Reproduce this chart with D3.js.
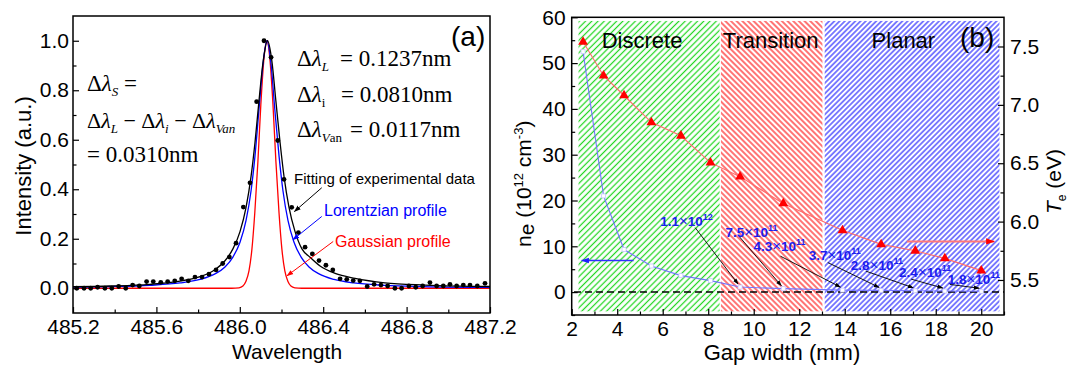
<!DOCTYPE html>
<html>
<head>
<meta charset="utf-8">
<script src="https://cdn.jsdelivr.net/npm/d3@7"></script>
<style>
body { margin: 0; background: #fff; }
svg { display: block; font-family: "Liberation Sans", Arial, sans-serif; }
</style>
</head>
<body>
<svg id="chart" width="1068" height="365"></svg>
<script>
// ---- panel (a): H-beta line profile ----
const expWavelength = [485.218,485.253,485.285,485.318,485.353,485.386,485.419,485.453,485.486,485.518,
  485.553,485.585,485.621,485.654,485.688,485.721,485.753,485.785,485.819,485.852,
  485.886,485.918,485.950,485.982,486.017,486.049,486.081,486.116,486.150,486.182,
  486.212,486.249,486.281,486.313,486.348,486.380,486.413,486.446,486.481,486.513,
  486.544,486.576,486.611,486.644,486.677,486.709,486.744,486.776,486.811,486.844,
  486.877,486.912,486.944,486.976,487.008,487.040,487.072,487.104,487.139,487.176];
const expIntensity = [0,0,0,0.004,0,0,0.007,0,0.013,0.009,
  0.027,0.027,0.024,0.027,0.03,0.038,0.03,0.045,0.045,0.057,
  0.074,0.1,0.126,0.182,0.328,0.426,0.754,1.0,0.933,0.597,
  0.44,0.327,0.225,0.166,0.139,0.112,0.093,0.074,0.038,0.036,
  0.031,0.03,0.007,0.016,0.013,0.009,0,0,0.009,0.004,
  0.009,0.023,0.009,0.009,0.016,0.009,0.013,0.013,0.009,0.02];

const fitWavelength = [485.200,485.377,485.569,485.713,485.809,485.881,485.929,485.967,486.001,486.030,
  486.054,486.073,486.092,486.112,486.133,486.154,486.173,486.193,486.212,486.236,
  486.265,486.298,486.337,486.385,486.457,486.553,486.696,486.888,487.200];
const fitIntensity = [0.006,0.009,0.016,0.029,0.047,0.075,0.111,0.159,0.229,0.327,
  0.452,0.59,0.757,0.917,1.0,0.917,0.757,0.59,0.452,0.327,
  0.229,0.159,0.125,0.09,0.06,0.04,0.022,0.013,0.007];

const lorWavelength = [485.200,485.377,485.569,485.713,485.809,485.881,485.929,485.967,486.001,486.030,
  486.054,486.073,486.092,486.112,486.130,486.149,486.168,486.188,486.207,486.231,
  486.260,486.294,486.332,486.380,486.452,486.547,486.692,486.883,487.200];
const lorIntensity = [0.0044,0.0067,0.012,0.0215,0.0357,0.058,0.086,0.126,0.186,0.274,
  0.394,0.536,0.722,0.912,1.0,0.912,0.722,0.536,0.394,0.274,
  0.186,0.126,0.086,0.058,0.0357,0.0215,0.012,0.0067,0.0033];

const gauWavelength = [485.200,485.962,485.996,486.015,486.029,486.044,486.058,486.072,486.087,486.101,
  486.116,486.130,486.144,486.159,486.173,486.188,486.202,486.216,486.231,486.245,
  486.264,486.298,487.200];
const gauIntensity = [0,0,0.0016,0.0088,0.027,0.07,0.157,0.306,0.514,0.744,
  0.929,1,0.929,0.744,0.514,0.306,0.157,0.07,0.027,0.0088,
  0.0016,0,0];

const wlTicks = [485.2, 485.6, 486.0, 486.4, 486.8, 487.2];
const wlMinor = [485.4, 485.8, 486.2, 486.6, 487.0];
const intTicks = [0, 0.2, 0.4, 0.6, 0.8, 1.0];
const intMinor = [0.1, 0.3, 0.5, 0.7, 0.9];

// ---- panel (b): gap width scan ----
const gapWidth = [2.5, 3.4, 4.3, 5.5, 6.8, 8.1, 9.4, 11.3, 13.9, 15.6, 17.1, 18.4, 20.0];
const density = [52.5, 21.0, 9.3, 5.7, 3.6, 2.5, 1.1, 0.75, 0.43, 0.37, 0.28, 0.24, 0.18];
const electronTemp = [7.54, 7.25, 7.08, 6.85, 6.735, 6.505, 6.385, 6.155, 5.925, 5.805, 5.75, 5.685, 5.58];

const densityText = ['1.1', '7.5', '4.3', '3.7', '2.8', '2.4', '1.8'];
const densityExp = ['12', '11', '11', '11', '11', '11', '11'];
const densityFirstIndex = 6;

const regionNames = ['Discrete', 'Transition', 'Planar'];
const regionStart = [2.3, 8.56, 13.12];
const regionEnd = [8.5, 13.02, 20.8];

const gapTicks = [2, 4, 6, 8, 10, 12, 14, 16, 18, 20];
const gapMinor = [3, 5, 7, 9, 11, 13, 15, 17, 19, 21];
const neTicks = [0, 10, 20, 30, 40, 50, 60];
const neMinor = [-5, 5, 15, 25, 35, 45, 55];
const teTicks = [5.5, 6.0, 6.5, 7.0, 7.5];
const teMinor = [5.75, 6.25, 6.75, 7.25];

// annotation layout (data units of panel b)
const labelGap = [5.89, 8.76, 9.99, 12.42, 14.27, 16.39, 18.53];
const labelNe = [14.5, 12.07, 8.93, 7.0, 4.8, 3.27, 1.68];
const arrowOffset = [[35, 2], [14, 0], [27, 5], [19, 2.5], [15, 1], [12, 2], [2, 0]];

const svg = d3.select('#chart');
const defs = svg.append('defs');

function arrowMarker(id, color, size) {
    defs.append('marker')
        .attr('id', id)
        .attr('viewBox', '0 0 10 10')
        .attr('refX', 9)
        .attr('refY', 5)
        .attr('markerUnits', 'userSpaceOnUse')
        .attr('markerWidth', size)
        .attr('markerHeight', size)
        .attr('orient', 'auto')
        .append('path')
        .attr('d', 'M0,1.5L10,5L0,8.5Z')
        .attr('fill', color);
}
arrowMarker('arK', '#000', 7);
arrowMarker('arB', '#0000ff', 7);
arrowMarker('arR', '#ff0000', 7);
arrowMarker('arK2', '#000', 6);
arrowMarker('arB2', '#2020ff', 8);
arrowMarker('arR2', '#ff0000', 9);

// diagonal hatch: vertical stripes turned by the given angle
function hatch(id, color, step, angle, width) {
    const p = defs.append('pattern')
        .attr('id', id)
        .attr('patternUnits', 'userSpaceOnUse')
        .attr('width', step)
        .attr('height', 10)
        .attr('patternTransform', `rotate(${angle})`);
    p.append('rect')
        .attr('x', (step - width) / 2).attr('y', 0)
        .attr('width', width).attr('height', 10)
        .attr('fill', color);
}
hatch('hGreen', '#22d622', 4.4, 45, 1.25);
hatch('hRed', '#ff1a1a', 4.0, -45, 1.2);
hatch('hBlue', '#2424ff', 3.7, 45, 1.15);
const regionFill = ['url(#hGreen)', 'url(#hRed)', 'url(#hBlue)'];

// rich text with sub/superscripts
function richText(g, x, y, parts, opts) {
    const t = g.append('text').attr('x', x).attr('y', y)
        .attr('font-size', opts.size)
        .attr('font-family', opts.family || null)
        .attr('fill', opts.fill || '#000');
    if (opts.transform) t.attr('transform', opts.transform);
    if (opts.anchor) t.attr('text-anchor', opts.anchor);
    if (opts.weight) t.attr('font-weight', opts.weight);
    let shift = 0;
    parts.forEach(p => {
        const s = t.append('tspan').text(p.t);
        const target = p.shift || 0;
        if (target !== shift) { s.attr('dy', target - shift); shift = target; }
        if (p.x != null) s.attr('x', p.x);
        if (p.size) s.attr('font-size', p.size);
        if (p.it) s.attr('font-style', 'italic');
        if (p.w) s.attr('font-weight', p.w);
    });
    return t;
}

// ================= panel (a) =================
const boxA = { left: 73, top: 16, right: 490, bottom: 313 };
const xA = d3.scaleLinear().domain([485.2, 487.2]).range([boxA.left, boxA.right]);
const yA = d3.scaleLinear().domain([-0.1, 1.1]).range([boxA.bottom, boxA.top]);
const gA = svg.append('g');

const lineA = (xs, ys) => d3.line()
    .x((d, i) => xA(xs[i]))
    .y((d, i) => yA(ys[i]))
    .curve(d3.curveMonotoneX)(xs);

gA.append('path').attr('d', lineA(gauWavelength, gauIntensity))
    .attr('fill', 'none').attr('stroke', '#ff0000').attr('stroke-width', 1.3);
gA.append('path').attr('d', lineA(lorWavelength, lorIntensity))
    .attr('fill', 'none').attr('stroke', '#0000ff').attr('stroke-width', 1.3);
gA.append('path').attr('d', lineA(fitWavelength, fitIntensity))
    .attr('fill', 'none').attr('stroke', '#000').attr('stroke-width', 1.3);

gA.selectAll('.dot')
    .data(expWavelength)
    .enter()
    .append('circle')
    .attr('class', 'dot')
    .attr('cx', d => xA(d))
    .attr('cy', (d, i) => yA(expIntensity[i]))
    .attr('r', 2.4)
    .attr('fill', '#000');

// axes (ticks pointing inward)
gA.append('g').attr('transform', `translate(0,${boxA.bottom})`)
    .call(d3.axisBottom(xA).tickValues(wlTicks).tickSize(-6).tickPadding(6).tickFormat(d3.format('.1f')));
gA.append('g').attr('transform', `translate(0,${boxA.bottom})`)
    .call(d3.axisBottom(xA).tickValues(wlMinor).tickSize(-3.5).tickFormat(''));
gA.append('g').attr('transform', `translate(${boxA.left},0)`)
    .call(d3.axisLeft(yA).tickValues(intTicks).tickSize(-6).tickPadding(4).tickFormat(d3.format('.1f')));
gA.append('g').attr('transform', `translate(${boxA.left},0)`)
    .call(d3.axisLeft(yA).tickValues(intMinor).tickSize(-3.5).tickFormat(''));

// annotations (a)
const noteA = [
    { text: 'Fitting of experimental data', color: '#000', size: 15, wl: 486.26, y: 0.423,
      from: [486.393, 0.406], to: [486.262, 0.31], marker: 'arK' },
    { text: 'Lorentzian profile', color: '#0000ff', size: 16, wl: 486.404, y: 0.29,
      from: [486.393, 0.29], to: [486.255, 0.196], marker: 'arB' },
    { text: 'Gaussian profile', color: '#ff0000', size: 16, wl: 486.457, y: 0.166,
      from: [486.448, 0.189], to: [486.226, 0.05], marker: 'arR' }
];
noteA.forEach(n => {
    gA.append('text').attr('x', xA(n.wl)).attr('y', yA(n.y))
        .attr('font-size', n.size).attr('fill', n.color).text(n.text);
    gA.append('line')
        .attr('x1', xA(n.from[0])).attr('y1', yA(n.from[1]))
        .attr('x2', xA(n.to[0])).attr('y2', yA(n.to[1]))
        .attr('stroke', n.color).attr('stroke-width', 1)
        .attr('marker-end', `url(#${n.marker})`);
});

const serif = '"Liberation Serif", "Times New Roman", serif';
const mathOpts = { size: 23, family: serif };
const subS = 5;
// right block
richText(gA, 297, 65.5, [{ t: 'Δ' }, { t: 'λ', it: true }, { t: 'L', it: true, size: 13, shift: subS },
    { t: '= 0.1237nm', x: 340 }], mathOpts);
richText(gA, 297, 101.5, [{ t: 'Δ' }, { t: 'λ', it: true }, { t: 'i', size: 13, shift: subS },
    { t: '= 0.0810nm', x: 341 }], mathOpts);
richText(gA, 297, 137, [{ t: 'Δ' }, { t: 'λ', it: true }, { t: 'V', it: true, size: 13, shift: subS },
    { t: 'an', size: 13, shift: subS }, { t: '= 0.0117nm', x: 350 }], mathOpts);
// left block
richText(gA, 87, 91, [{ t: 'Δ' }, { t: 'λ', it: true }, { t: 'S', it: true, size: 13, shift: subS },
    { t: ' =' }], mathOpts);
richText(gA, 87, 127.5, [{ t: 'Δ' }, { t: 'λ', it: true }, { t: 'L', it: true, size: 13, shift: subS },
    { t: ' − Δ' }, { t: 'λ', it: true }, { t: 'i', it: true, size: 13, shift: subS },
    { t: ' − Δ' }, { t: 'λ', it: true }, { t: 'Van', it: true, size: 13, shift: subS }],
    { size: 22, family: serif });
richText(gA, 87, 161.5, [{ t: '= 0.0310nm' }], mathOpts);

gA.append('text').attr('x', 451).attr('y', 46).attr('font-size', 28).text('(a)');

gA.append('text').attr('x', 287).attr('y', 359).attr('text-anchor', 'middle')
    .attr('font-size', 21).text('Wavelength');
gA.append('text').attr('transform', 'translate(31,166) rotate(-90)').attr('text-anchor', 'middle')
    .attr('font-size', 22).text('Intensity (a.u.)');

gA.append('rect').attr('x', boxA.left).attr('y', boxA.top)
    .attr('width', boxA.right - boxA.left).attr('height', boxA.bottom - boxA.top)
    .attr('fill', 'none').attr('stroke', '#000').attr('stroke-width', 1.5);

// ================= panel (b) =================
const boxB = { left: 571.7, top: 17.3, right: 1004, bottom: 315 };
const xB = d3.scaleLinear().domain([2, 21]).range([boxB.left, boxB.right]);
const yB = d3.scaleLinear().domain([-5, 60]).range([boxB.bottom, boxB.top]);
const yT = d3.scaleLinear().domain([5.2, 7.75]).range([boxB.bottom, boxB.top]);
const gB = svg.append('g');

// hatched regimes
gB.selectAll('.region')
    .data(regionNames)
    .enter()
    .append('rect')
    .attr('class', 'region')
    .attr('x', (d, i) => xB(regionStart[i]))
    .attr('width', (d, i) => xB(regionEnd[i]) - xB(regionStart[i]))
    .attr('y', yB(59.2))
    .attr('height', yB(-4.2) - yB(59.2))
    .attr('fill', (d, i) => regionFill[i]);

// zero line
gB.append('line')
    .attr('x1', xB(2.1)).attr('x2', xB(21))
    .attr('y1', yB(0)).attr('y2', yB(0))
    .attr('stroke', '#000').attr('stroke-width', 1.5).attr('stroke-dasharray', '7,4');

// ne curve
const neLine = d3.line().x((d, i) => xB(gapWidth[i])).y((d, i) => yB(density[i]));
gB.append('path').attr('d', neLine(density))
    .attr('fill', 'none').attr('stroke', '#7474ff').attr('stroke-width', 1.1);
gB.selectAll('.neDot')
    .data(density)
    .enter()
    .append('rect')
    .attr('class', 'neDot')
    .attr('x', (d, i) => xB(gapWidth[i]) - 2)
    .attr('y', d => yB(d) - 2)
    .attr('width', 4).attr('height', 4)
    .attr('fill', '#fff').attr('stroke', '#c8c8ff').attr('stroke-width', 0.8);

// Te curve
const teLine = d3.line().x((d, i) => xB(gapWidth[i])).y((d, i) => yT(electronTemp[i]));
gB.append('path').attr('d', teLine(electronTemp))
    .attr('fill', 'none').attr('stroke', '#ff6a6a').attr('stroke-width', 1.1);
gB.selectAll('.teDot')
    .data(electronTemp)
    .enter()
    .append('path')
    .attr('class', 'teDot')
    .attr('transform', (d, i) => `translate(${xB(gapWidth[i])},${yT(d)})`)
    .attr('d', d3.symbol().type(d3.symbolTriangle).size(42))
    .attr('fill', '#ff0000');

// axis pointers
gB.append('line')
    .attr('x1', xB(16.73)).attr('x2', xB(20.57))
    .attr('y1', yT(5.83)).attr('y2', yT(5.83))
    .attr('stroke', '#ff7878').attr('stroke-width', 2)
    .attr('marker-end', 'url(#arR2)');
gB.append('line')
    .attr('x1', xB(4.72)).attr('x2', xB(2.44))
    .attr('y1', yB(6.9)).attr('y2', yB(6.9))
    .attr('stroke', '#3030ff').attr('stroke-width', 1.3)
    .attr('marker-end', 'url(#arB2)');

// density annotations
densityText.forEach((txt, k) => {
    const i = densityFirstIndex + k;
    const lx = xB(labelGap[k]);
    const ly = yB(labelNe[k]);
    gB.append('line')
        .attr('x1', lx + arrowOffset[k][0]).attr('y1', ly + arrowOffset[k][1])
        .attr('x2', xB(gapWidth[i]) - 2).attr('y2', yB(density[i]) - 3)
        .attr('stroke', '#000').attr('stroke-width', 0.9)
        .attr('marker-end', 'url(#arK2)');
    richText(gB, lx, ly, [{ t: txt }, { t: '×', w: 'normal', size: 15 }, { t: '10' },
        { t: densityExp[k], size: 9, shift: -6 }],
        { size: 13.5, fill: '#1c1cee', weight: 'bold' });
});

// regime labels
const regionLabelX = [3.32, 8.64, 15.18];
regionNames.forEach((name, i) => {
    gB.append('text').attr('x', xB(regionLabelX[i])).attr('y', yB(53.2))
        .attr('font-size', 22).text(name);
});
gB.append('text').attr('x', 960).attr('y', 47).attr('font-size', 28).text('(b)');

// axes
gB.append('g').attr('transform', `translate(0,${boxB.bottom})`)
    .call(d3.axisBottom(xB).tickValues(gapTicks).tickSize(-6).tickPadding(6));
gB.append('g').attr('transform', `translate(0,${boxB.bottom})`)
    .call(d3.axisBottom(xB).tickValues(gapMinor).tickSize(-3.5).tickFormat(''));
gB.append('g').attr('transform', `translate(${boxB.left},0)`)
    .call(d3.axisLeft(yB).tickValues(neTicks).tickSize(-6).tickPadding(6));
gB.append('g').attr('transform', `translate(${boxB.left},0)`)
    .call(d3.axisLeft(yB).tickValues(neMinor).tickSize(-3.5).tickFormat(''));
gB.append('g').attr('transform', `translate(${boxB.right},0)`)
    .call(d3.axisRight(yT).tickValues(teTicks).tickSize(-6).tickPadding(6).tickFormat(d3.format('.1f')));
gB.append('g').attr('transform', `translate(${boxB.right},0)`)
    .call(d3.axisRight(yT).tickValues(teMinor).tickSize(-3.5).tickFormat(''));

gB.append('text').attr('x', 782).attr('y', 360).attr('text-anchor', 'middle')
    .attr('font-size', 22).text('Gap width (mm)');
richText(gB, 0, 0, [{ t: 'n' }, { t: 'e', shift: 3 }, { t: ' (10', shift: 0 }, { t: '12', size: 13, shift: -8 },
    { t: ' cm', shift: 0 }, { t: '-3', size: 13, shift: -8 }, { t: ')', shift: 0 }],
    { size: 21, transform: 'translate(531,247) rotate(-90)' });
richText(gB, 0, 0, [{ t: 'T', it: true }, { t: 'e', size: 12, shift: 5 }, { t: ' (eV)', shift: 0 }],
    { size: 21, transform: 'translate(1061,214) rotate(-90)' });

gB.append('rect').attr('x', boxB.left).attr('y', boxB.top)
    .attr('width', boxB.right - boxB.left).attr('height', boxB.bottom - boxB.top)
    .attr('fill', 'none').attr('stroke', '#000').attr('stroke-width', 1.5);

// axis line / tick styling
svg.selectAll('.domain').remove();
svg.selectAll('.tick line').attr('stroke', '#000').attr('stroke-width', 1.2);
svg.selectAll('.tick text').attr('font-size', 21).attr('fill', '#000')
    .attr('font-family', '"Liberation Sans", Arial, sans-serif');
</script>
</body>
</html>
